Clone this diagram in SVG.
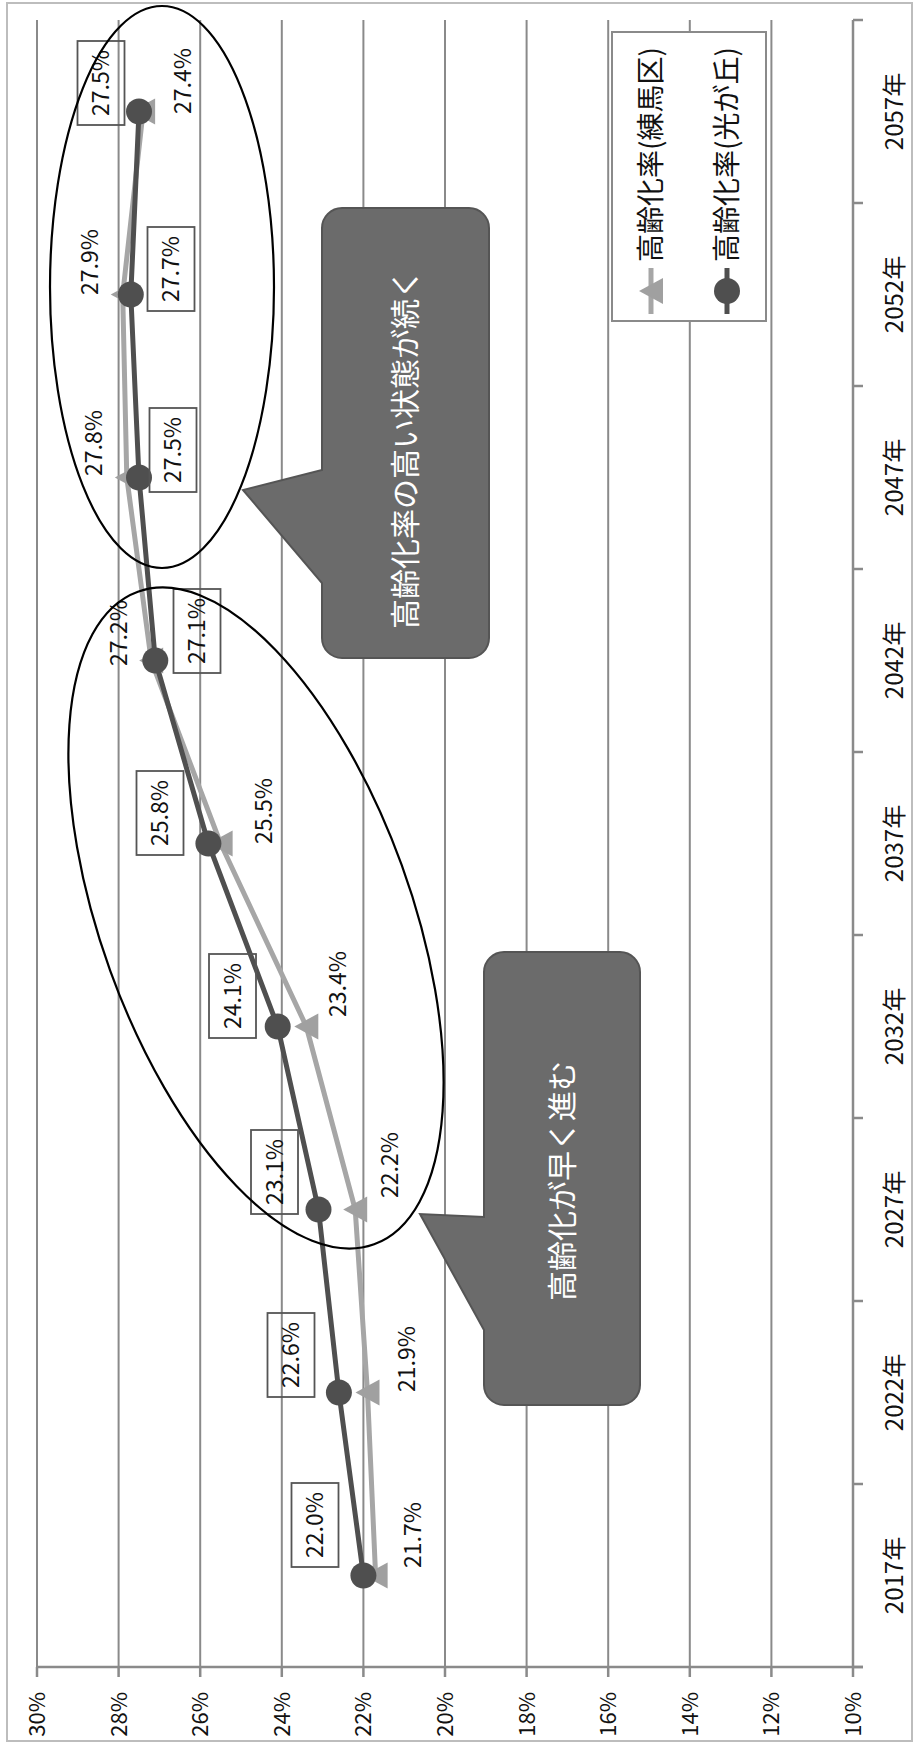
<svg xmlns="http://www.w3.org/2000/svg" xmlns:xlink="http://www.w3.org/1999/xlink" width="914" height="1744" viewBox="0 0 914 1744">
<style>
.grid{stroke:#8a8a8a;stroke-width:2;fill:none}
.axis{stroke:#8a8a8a;stroke-width:2.5;fill:none}
.t{font-family:"Noto Sans CJK JP","Liberation Sans",sans-serif;fill:#111}
.val{font-size:22px}
.yr{font-size:24px}
.dl{font-size:23px}
.lg{font-size:28px}
.co{font-size:30px;fill:#ffffff}
.box{fill:none;stroke:#555;stroke-width:1.8}
.light{fill:none;stroke:#a6a6a6;stroke-width:5;stroke-linejoin:round}
.dark{fill:none;stroke:#4f4f4f;stroke-width:5;stroke-linejoin:round}
.lm{fill:#a0a0a0}
.dm{fill:#4f4f4f}
.ell{fill:none;stroke:#000;stroke-width:2.2}
.call{fill:#6b6b6b;stroke:#555;stroke-width:2}
</style>
<defs>
<path id="tri" d="M-12 0 L12 -13 L12 13 Z"/>
</defs>
<rect x="7" y="3" width="905" height="1738" fill="#fff" stroke="#bdbdbd" stroke-width="2"/>
<g id="gridlines">
<line class="grid" x1="37" y1="20" x2="37" y2="1667"/>
<line class="grid" x1="118.6" y1="20" x2="118.6" y2="1667"/>
<line class="grid" x1="200.2" y1="20" x2="200.2" y2="1667"/>
<line class="grid" x1="281.8" y1="20" x2="281.8" y2="1667"/>
<line class="grid" x1="363.4" y1="20" x2="363.4" y2="1667"/>
<line class="grid" x1="445" y1="20" x2="445" y2="1667"/>
<line class="grid" x1="526.6" y1="20" x2="526.6" y2="1667"/>
<line class="grid" x1="608.2" y1="20" x2="608.2" y2="1667"/>
<line class="grid" x1="689.8" y1="20" x2="689.8" y2="1667"/>
<line class="grid" x1="771.4" y1="20" x2="771.4" y2="1667"/>
</g>
<g id="axes">
<line class="axis" x1="853" y1="20" x2="853" y2="1667"/>
<line class="axis" x1="37" y1="1667" x2="863" y2="1667"/>
<path class="axis" d="M853 20 H863 M853 203 H863 M853 386 H863 M853 569 H863 M853 752 H863 M853 935 H863 M853 1118 H863 M853 1301 H863 M853 1484 H863 M853 1667 H863"/>
<path class="axis" d="M37 1667 V1677 M118.6 1667 V1677 M200.2 1667 V1677 M281.8 1667 V1677 M363.4 1667 V1677 M445 1667 V1677 M526.6 1667 V1677 M608.2 1667 V1677 M689.8 1667 V1677 M771.4 1667 V1677 M853 1667 V1677"/>
</g>
<g id="value-labels" class="t val" text-anchor="end">
<text transform="translate(37 1692) rotate(-90)" dy="0.36em">30%</text>
<text transform="translate(118.6 1692) rotate(-90)" dy="0.36em">28%</text>
<text transform="translate(200.2 1692) rotate(-90)" dy="0.36em">26%</text>
<text transform="translate(281.8 1692) rotate(-90)" dy="0.36em">24%</text>
<text transform="translate(363.4 1692) rotate(-90)" dy="0.36em">22%</text>
<text transform="translate(445 1692) rotate(-90)" dy="0.36em">20%</text>
<text transform="translate(526.6 1692) rotate(-90)" dy="0.36em">18%</text>
<text transform="translate(608.2 1692) rotate(-90)" dy="0.36em">16%</text>
<text transform="translate(689.8 1692) rotate(-90)" dy="0.36em">14%</text>
<text transform="translate(771.4 1692) rotate(-90)" dy="0.36em">12%</text>
<text transform="translate(853 1692) rotate(-90)" dy="0.36em">10%</text>
</g>
<g id="year-labels" class="t yr" text-anchor="middle">
<text transform="translate(894 1575.5) rotate(-90)" dy="0.36em">2017年</text>
<text transform="translate(894 1392.5) rotate(-90)" dy="0.36em">2022年</text>
<text transform="translate(894 1209.5) rotate(-90)" dy="0.36em">2027年</text>
<text transform="translate(894 1026.5) rotate(-90)" dy="0.36em">2032年</text>
<text transform="translate(894 843.5) rotate(-90)" dy="0.36em">2037年</text>
<text transform="translate(894 660.5) rotate(-90)" dy="0.36em">2042年</text>
<text transform="translate(894 477.5) rotate(-90)" dy="0.36em">2047年</text>
<text transform="translate(894 294.5) rotate(-90)" dy="0.36em">2052年</text>
<text transform="translate(894 111.5) rotate(-90)" dy="0.36em">2057年</text>
</g>
<g id="series-nerima">
<polyline class="light" points="375.6,1575.5 367.5,1392.5 355.2,1209.5 306.3,1026.5 220.6,843.5 151.2,660.5 126.8,477.5 122.7,294.5 143.1,111.5"/>
<use xlink:href="#tri" href="#tri" class="lm" x="375.6" y="1575.5"/>
<use xlink:href="#tri" href="#tri" class="lm" x="367.5" y="1392.5"/>
<use xlink:href="#tri" href="#tri" class="lm" x="355.2" y="1209.5"/>
<use xlink:href="#tri" href="#tri" class="lm" x="306.3" y="1026.5"/>
<use xlink:href="#tri" href="#tri" class="lm" x="220.6" y="843.5"/>
<use xlink:href="#tri" href="#tri" class="lm" x="151.2" y="660.5"/>
<use xlink:href="#tri" href="#tri" class="lm" x="126.8" y="477.5"/>
<use xlink:href="#tri" href="#tri" class="lm" x="122.7" y="294.5"/>
<use xlink:href="#tri" href="#tri" class="lm" x="143.1" y="111.5"/>
</g>
<g id="series-hikarigaoka">
<polyline class="dark" points="363.4,1575.5 338.9,1392.5 318.5,1209.5 277.7,1026.5 208.4,843.5 155.3,660.5 139,477.5 130.8,294.5 139,111.5"/>
<circle class="dm" cx="363.4" cy="1575.5" r="13"/>
<circle class="dm" cx="338.9" cy="1392.5" r="13"/>
<circle class="dm" cx="318.5" cy="1209.5" r="13"/>
<circle class="dm" cx="277.7" cy="1026.5" r="13"/>
<circle class="dm" cx="208.4" cy="843.5" r="13"/>
<circle class="dm" cx="155.3" cy="660.5" r="13"/>
<circle class="dm" cx="139" cy="477.5" r="13"/>
<circle class="dm" cx="130.8" cy="294.5" r="13"/>
<circle class="dm" cx="139" cy="111.5" r="13"/>
</g>
<g id="labels-nerima" class="t dl" text-anchor="middle">
<text transform="translate(413 1535) rotate(-90)" dy="0.36em">21.7%</text>
<text transform="translate(407 1359) rotate(-90)" dy="0.36em">21.9%</text>
<text transform="translate(390 1165) rotate(-90)" dy="0.36em">22.2%</text>
<text transform="translate(338 984) rotate(-90)" dy="0.36em">23.4%</text>
<text transform="translate(264 811) rotate(-90)" dy="0.36em">25.5%</text>
<text transform="translate(119 633) rotate(-90)" dy="0.36em">27.2%</text>
<text transform="translate(94 443) rotate(-90)" dy="0.36em">27.8%</text>
<text transform="translate(90 262) rotate(-90)" dy="0.36em">27.9%</text>
<text transform="translate(183 81) rotate(-90)" dy="0.36em">27.4%</text>
</g>
<g id="labels-hikarigaoka">
<rect class="box" x="291.5" y="1483" width="47" height="84"/>
<rect class="box" x="267.5" y="1313" width="47" height="84"/>
<rect class="box" x="251" y="1130" width="47" height="84"/>
<rect class="box" x="209" y="954" width="47" height="84"/>
<rect class="box" x="136.5" y="771" width="47" height="84"/>
<rect class="box" x="173.5" y="589" width="47" height="84"/>
<rect class="box" x="149.5" y="408" width="47" height="84"/>
<rect class="box" x="147.5" y="227" width="47" height="84"/>
<rect class="box" x="77.5" y="41" width="47" height="84"/>
<g class="t dl" text-anchor="middle">
<text transform="translate(315 1525) rotate(-90)" dy="0.36em">22.0%</text>
<text transform="translate(291 1355) rotate(-90)" dy="0.36em">22.6%</text>
<text transform="translate(274.5 1172) rotate(-90)" dy="0.36em">23.1%</text>
<text transform="translate(232.5 996) rotate(-90)" dy="0.36em">24.1%</text>
<text transform="translate(160 813) rotate(-90)" dy="0.36em">25.8%</text>
<text transform="translate(197 631) rotate(-90)" dy="0.36em">27.1%</text>
<text transform="translate(173 450) rotate(-90)" dy="0.36em">27.5%</text>
<text transform="translate(171 269) rotate(-90)" dy="0.36em">27.7%</text>
<text transform="translate(101 83) rotate(-90)" dy="0.36em">27.5%</text>
</g>
</g>
<g id="legend">
<rect x="612" y="32" width="154" height="289" fill="#fff" stroke="#8a8a8a" stroke-width="2"/>
<line class="light" x1="651" y1="268" x2="651" y2="314"/>
<use xlink:href="#tri" href="#tri" class="lm" x="651" y="291"/>
<text class="t lg" transform="translate(651 262) rotate(-90)" dy="0.36em">高齢化率(練馬区)</text>
<line class="dark" x1="727" y1="268" x2="727" y2="314"/>
<circle class="dm" cx="727" cy="291" r="13"/>
<text class="t lg" transform="translate(727 262) rotate(-90)" dy="0.36em">高齢化率(光が丘)</text>
</g>
<g id="ellipses">
<ellipse id="ellipse-late" class="ell" cx="162" cy="287" rx="112" ry="281"/>
<ellipse id="ellipse-early" class="ell" cx="0" cy="0" rx="347" ry="155" transform="translate(256 918) rotate(70.1)"/>
</g>
<g id="callout-high">
<path class="call" d="M342 208 H469 A20 20 0 0 1 489 228 V638 A20 20 0 0 1 469 658 H342 A20 20 0 0 1 322 638 V583 L243 490 L322 470 V228 A20 20 0 0 1 342 208 Z"/>
<text class="t co" text-anchor="middle" transform="translate(405 449) rotate(-90)" dy="0.36em">高齢化率の高い状態が続く</text>
</g>
<g id="callout-fast">
<path class="call" d="M504 952 H620 A20 20 0 0 1 640 972 V1385 A20 20 0 0 1 620 1405 H504 A20 20 0 0 1 484 1385 V1330 L420 1214 L484 1217 V972 A20 20 0 0 1 504 952 Z"/>
<text class="t co" text-anchor="middle" transform="translate(562 1181) rotate(-90)" dy="0.36em">高齢化が早く進む</text>
</g>
</svg>
